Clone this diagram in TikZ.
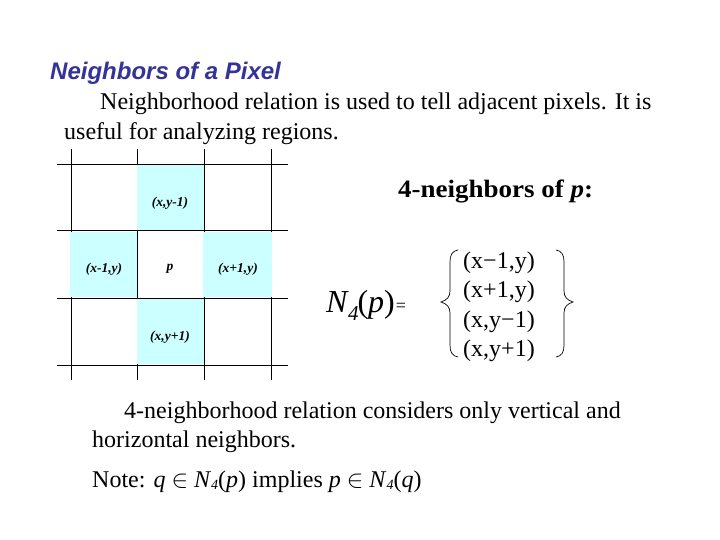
\documentclass[tikz,border=0pt]{standalone}
\usepackage{fontspec}
\setmainfont{Liberation Serif}
\newfontfamily\arialf{Liberation Sans}
\definecolor{cellcyan}{RGB}{204,255,255}
\definecolor{titleblue}{RGB}{51,51,153}
\begin{document}
\begin{tikzpicture}[x=1pt,y=-1pt,
  gridline/.style={line width=1pt},
  lbl/.style={font=\fontsize{13.5}{13.5}\selectfont\bfseries\itshape, inner sep=0pt},
  body/.style={font=\fontsize{24}{28}\selectfont, anchor=base west, inner sep=0pt},
  setitem/.style={font=\fontsize{24}{28}\selectfont, anchor=base, inner sep=0pt},
  brace/.style={line width=0.7pt}
]
\useasboundingbox (0,0) rectangle (720,540);
% title and text
\node[anchor=base west, inner sep=0pt, font=\arialf\fontsize{24}{28}\selectfont\bfseries\itshape, text=titleblue] (title) at (50,80) {Neighbors of a Pixel};
\node[body] (l1) at (100,110) {Neighborhood relation is used to tell adjacent pixels. It is};
\node[body] (l2) at (64,140) {useful for analyzing regions.};
\node[body, font=\fontsize{25}{28}\selectfont\bfseries] (head) at (398,197.5) {\scalebox{1.08}[1]{4-neighbors of \textit{p}:}};
\node[body] (b1) at (124,418) {4-neighborhood relation considers only vertical and};
\node[body] (b2) at (92,447) {horizontal neighbors.};
\node[body] (b3) at (92,487) {Note: \textit{q} $\in$ \textit{N}\raisebox{-0.25ex}{\fontsize{14}{14}\selectfont\textit{4}}(\textit{p}) implies \textit{p} $\in$ \textit{N}\raisebox{-0.25ex}{\fontsize{14}{14}\selectfont\textit{4}}(\textit{q})};
% grid
\foreach \x in {71,137.5,204,271} \draw[gridline] (\x,149) -- (\x,380);
\foreach \y in {164.5,231,298,365} \draw[gridline] (57,\y) -- (288,\y);
\fill[cellcyan] (136.8,165.1) rectangle (204.5,230.4);
\fill[cellcyan] (70.3,231.6) rectangle (138,297.4);
\fill[cellcyan] (203.3,231.6) rectangle (271.7,297.4);
\fill[cellcyan] (136.8,298.6) rectangle (204.5,364.4);
\draw[gridline] (204,164.5) -- (204,231);
\draw[gridline] (137.5,231) -- (137.5,298);
\draw[gridline] (204,298) -- (204,365);
\node[lbl] (up) at (170,203) {(x,y-1)};
\node[lbl] (left) at (104,269) {(x-1,y)};
\node[lbl] (pp) at (170,269) {p};
\node[lbl] (right) at (238,269) {(x+1,y)};
\node[lbl] (down) at (170,337) {(x,y+1)};
% N4(p) =
\node[anchor=base west, inner sep=0pt, font=\fontsize{32}{34}\selectfont] (n4) at (326,312) {\textit{N}\kern-1pt\raisebox{-0.25em}{\fontsize{21}{21}\selectfont\textit{4}}\kern-1pt(\textit{p})\kern1pt\fontsize{18}{18}\selectfont\raisebox{0.05em}{=}};
% braces
\draw[brace] (458,250) .. controls (452,251) and (450,255) .. (450,262) -- (450,291) .. controls (450,297) and (447,300) .. (441,302) .. controls (447,304) and (450,307) .. (450,313) -- (450,345) .. controls (450,352) and (452,356) .. (458,357);
\draw[brace] (556,250) .. controls (562,251) and (564,255) .. (564,262) -- (564,291) .. controls (564,297) and (567,300) .. (573,302) .. controls (567,304) and (564,307) .. (564,313) -- (564,345) .. controls (564,352) and (562,356) .. (556,357);
\node[setitem] (s1) at (499,268) {(x−1,y)};
\node[setitem] (s2) at (499,297) {(x+1,y)};
\node[setitem] (s3) at (499,327) {(x,y−1)};
\node[setitem] (s4) at (499,356) {(x,y+1)};
\end{tikzpicture}
\end{document}
